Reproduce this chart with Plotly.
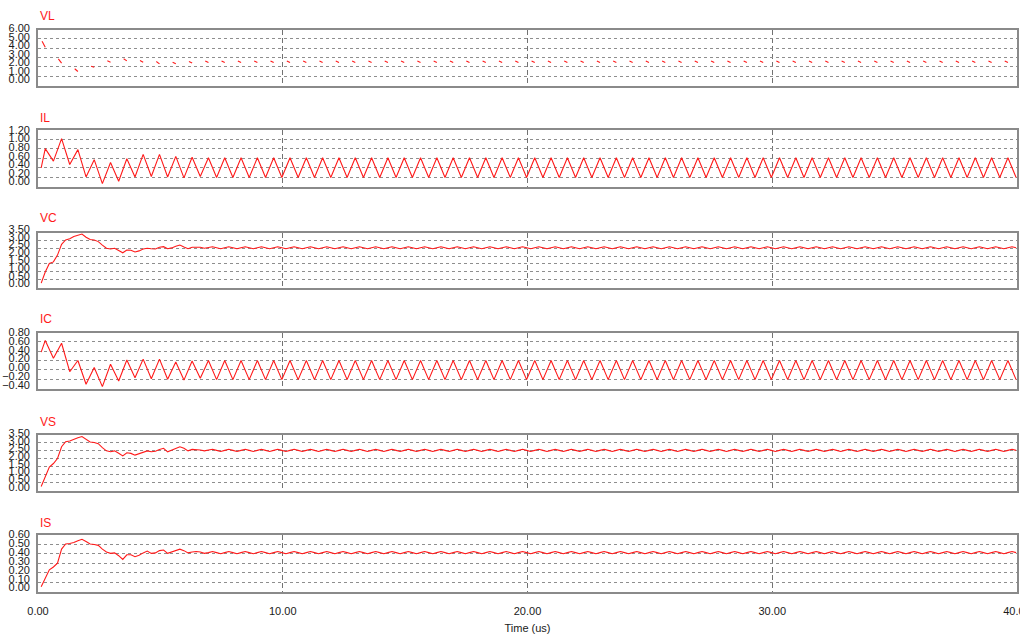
import numpy as np
import plotly.graph_objects as go

# ---------------------------------------------------------------- data
T_SW = 2 / 3        # switching period (us)
T_START = 0.13      # first stored sample (us)
VL_ON_STEP = 0.13   # spacing of the last two on-state samples of VL (us)

time_ticks = [0, 10, 20, 30, 40]

# Inductor voltage: last two on-state samples of each switching cycle
vl_seg_start = [
    4.75, 2.86, 1.79, 2.07, 2.64, 2.86, 2.68, 2.57, 2.50, 2.57,
    2.62, 2.62, 2.62, 2.62, 2.62, 2.62, 2.62, 2.62, 2.62, 2.62,
    2.62, 2.62, 2.62, 2.62, 2.62, 2.62, 2.62, 2.62, 2.62, 2.62,
    2.62, 2.62, 2.62, 2.62, 2.62, 2.62, 2.62, 2.62, 2.62, 2.62,
    2.62, 2.62, 2.62, 2.62, 2.62, 2.62, 2.62, 2.62, 2.62, 2.62,
    2.62, 2.62, 2.62, 2.62, 2.62, 2.62, 2.62, 2.62, 2.62, 2.62,
]
vl_seg_end = [
    4.10, 2.40, 1.50, 1.96, 2.50, 2.64, 2.50, 2.32, 2.32, 2.40,
    2.46, 2.46, 2.46, 2.46, 2.46, 2.46, 2.46, 2.46, 2.46, 2.46,
    2.46, 2.46, 2.46, 2.46, 2.46, 2.46, 2.46, 2.46, 2.46, 2.46,
    2.46, 2.46, 2.46, 2.46, 2.46, 2.46, 2.46, 2.46, 2.46, 2.46,
    2.46, 2.46, 2.46, 2.46, 2.46, 2.46, 2.46, 2.46, 2.46, 2.46,
    2.46, 2.46, 2.46, 2.46, 2.46, 2.46, 2.46, 2.46, 2.46, 2.46,
]

# Inductor current: first sample, then every peak / valley
il_vals = [
    0.40,
    0.80, 0.54, 1.01, 0.47, 0.78, 0.21, 0.57, 0.07, 0.51, 0.12,
    0.59, 0.21, 0.68, 0.22, 0.68, 0.21, 0.64, 0.19, 0.62, 0.22,
    0.61, 0.20, 0.61, 0.20, 0.61, 0.20, 0.61, 0.20, 0.61, 0.20,
    0.61, 0.20, 0.61, 0.20, 0.61, 0.20, 0.61, 0.20, 0.61, 0.20,
    0.61, 0.20, 0.61, 0.20, 0.61, 0.20, 0.61, 0.20, 0.61, 0.20,
    0.61, 0.20, 0.61, 0.20, 0.61, 0.20, 0.61, 0.20, 0.61, 0.20,
    0.61, 0.20, 0.61, 0.20, 0.61, 0.20, 0.61, 0.20, 0.61, 0.20,
    0.61, 0.20, 0.61, 0.20, 0.61, 0.20, 0.61, 0.20, 0.61, 0.20,
    0.61, 0.20, 0.61, 0.20, 0.61, 0.20, 0.61, 0.20, 0.61, 0.20,
    0.61, 0.20, 0.61, 0.20, 0.61, 0.20, 0.61, 0.20, 0.61, 0.20,
    0.61, 0.20, 0.61, 0.20, 0.61, 0.20, 0.61, 0.20, 0.61, 0.20,
    0.61, 0.20, 0.61, 0.20, 0.61, 0.20, 0.61, 0.20, 0.61, 0.20,
]

# Capacitor current: same instants as the inductor current
ic_vals = [
    0.38,
    0.63, 0.25, 0.57, -0.04, 0.20, -0.31, 0.05, -0.36, 0.12, -0.24,
    0.21, -0.17, 0.23, -0.19, 0.23, -0.20, 0.17, -0.22, 0.19, -0.18,
    0.20, -0.21, 0.20, -0.21, 0.20, -0.21, 0.20, -0.21, 0.20, -0.21,
    0.20, -0.21, 0.20, -0.21, 0.20, -0.21, 0.20, -0.21, 0.20, -0.21,
    0.20, -0.21, 0.20, -0.21, 0.20, -0.21, 0.20, -0.21, 0.20, -0.21,
    0.20, -0.21, 0.20, -0.21, 0.20, -0.21, 0.20, -0.21, 0.20, -0.21,
    0.20, -0.21, 0.20, -0.21, 0.20, -0.21, 0.20, -0.21, 0.20, -0.21,
    0.20, -0.21, 0.20, -0.21, 0.20, -0.21, 0.20, -0.21, 0.20, -0.21,
    0.20, -0.21, 0.20, -0.21, 0.20, -0.21, 0.20, -0.21, 0.20, -0.21,
    0.20, -0.21, 0.20, -0.21, 0.20, -0.21, 0.20, -0.21, 0.20, -0.21,
    0.20, -0.21, 0.20, -0.21, 0.20, -0.21, 0.20, -0.21, 0.20, -0.21,
    0.20, -0.21, 0.20, -0.21, 0.20, -0.21, 0.20, -0.21, 0.20, -0.21,
]

# Capacitor voltage, sampled four times per switching period
vc_vals = [
    0.28, 0.99, 1.53, 1.63, 2.06, 2.75, 3.03, 3.10, 3.25, 3.33,
    3.40, 3.20, 3.05, 3.02, 2.92, 2.70, 2.50, 2.45, 2.50, 2.36,
    2.21, 2.39, 2.37, 2.26, 2.33, 2.45, 2.50, 2.47, 2.45, 2.56,
    2.60, 2.47, 2.52, 2.62, 2.70, 2.58, 2.47, 2.56, 2.58, 2.56,
    2.50,
    2.53, 2.59, 2.53, 2.47, 2.53, 2.59, 2.53, 2.47,
    2.53, 2.59, 2.53, 2.47, 2.53, 2.59, 2.53, 2.47,
    2.53, 2.59, 2.53, 2.47, 2.53, 2.59, 2.53, 2.47,
    2.53, 2.59, 2.53, 2.47, 2.53, 2.59, 2.53, 2.47,
    2.53, 2.59, 2.53, 2.47, 2.53, 2.59, 2.53, 2.47,
    2.53, 2.59, 2.53, 2.47, 2.53, 2.59, 2.53, 2.47,
    2.53, 2.59, 2.53, 2.47, 2.53, 2.59, 2.53, 2.47,
    2.53, 2.59, 2.53, 2.47, 2.53, 2.59, 2.53, 2.47,
    2.53, 2.59, 2.53, 2.47, 2.53, 2.59, 2.53, 2.47,
    2.53, 2.59, 2.53, 2.47, 2.53, 2.59, 2.53, 2.47,
    2.53, 2.59, 2.53, 2.47, 2.53, 2.59, 2.53, 2.47,
    2.53, 2.59, 2.53, 2.47, 2.53, 2.59, 2.53, 2.47,
    2.53, 2.59, 2.53, 2.47, 2.53, 2.59, 2.53, 2.47,
    2.53, 2.59, 2.53, 2.47, 2.53, 2.59, 2.53, 2.47,
    2.53, 2.59, 2.53, 2.47, 2.53, 2.59, 2.53, 2.47,
    2.53, 2.59, 2.53, 2.47, 2.53, 2.59, 2.53, 2.47,
    2.53, 2.59, 2.53, 2.47, 2.53, 2.59, 2.53, 2.47,
    2.53, 2.59, 2.53, 2.47, 2.53, 2.59, 2.53, 2.47,
    2.53, 2.59, 2.53, 2.47, 2.53, 2.59, 2.53, 2.47,
    2.53, 2.59, 2.53, 2.47, 2.53, 2.59, 2.53, 2.47,
    2.53, 2.59, 2.53, 2.47, 2.53, 2.59, 2.53, 2.47,
    2.53, 2.59, 2.53, 2.47, 2.53, 2.59, 2.53, 2.47,
    2.53, 2.59, 2.53, 2.47, 2.53, 2.59, 2.53, 2.47,
    2.53, 2.59, 2.53, 2.47, 2.53, 2.59, 2.53, 2.47,
    2.53, 2.59, 2.53, 2.47, 2.53, 2.59, 2.53,
]

# Output (load) voltage, same sampling
vs_vals = [
    0.25, 0.85, 1.48, 1.70, 2.02, 2.76, 3.08, 3.12, 3.25, 3.33,
    3.40, 3.22, 3.06, 3.03, 2.95, 2.70, 2.50, 2.44, 2.50, 2.35,
    2.18, 2.38, 2.34, 2.23, 2.33, 2.44, 2.50, 2.44, 2.47, 2.59,
    2.66, 2.44, 2.55, 2.66, 2.76, 2.66, 2.50, 2.59, 2.58, 2.55,
    2.50,
    2.53, 2.60, 2.53, 2.46, 2.53, 2.60, 2.53, 2.46,
    2.53, 2.60, 2.53, 2.46, 2.53, 2.60, 2.53, 2.46,
    2.53, 2.60, 2.53, 2.46, 2.53, 2.60, 2.53, 2.46,
    2.53, 2.60, 2.53, 2.46, 2.53, 2.60, 2.53, 2.46,
    2.53, 2.60, 2.53, 2.46, 2.53, 2.60, 2.53, 2.46,
    2.53, 2.60, 2.53, 2.46, 2.53, 2.60, 2.53, 2.46,
    2.53, 2.60, 2.53, 2.46, 2.53, 2.60, 2.53, 2.46,
    2.53, 2.60, 2.53, 2.46, 2.53, 2.60, 2.53, 2.46,
    2.53, 2.60, 2.53, 2.46, 2.53, 2.60, 2.53, 2.46,
    2.53, 2.60, 2.53, 2.46, 2.53, 2.60, 2.53, 2.46,
    2.53, 2.60, 2.53, 2.46, 2.53, 2.60, 2.53, 2.46,
    2.53, 2.60, 2.53, 2.46, 2.53, 2.60, 2.53, 2.46,
    2.53, 2.60, 2.53, 2.46, 2.53, 2.60, 2.53, 2.46,
    2.53, 2.60, 2.53, 2.46, 2.53, 2.60, 2.53, 2.46,
    2.53, 2.60, 2.53, 2.46, 2.53, 2.60, 2.53, 2.46,
    2.53, 2.60, 2.53, 2.46, 2.53, 2.60, 2.53, 2.46,
    2.53, 2.60, 2.53, 2.46, 2.53, 2.60, 2.53, 2.46,
    2.53, 2.60, 2.53, 2.46, 2.53, 2.60, 2.53, 2.46,
    2.53, 2.60, 2.53, 2.46, 2.53, 2.60, 2.53, 2.46,
    2.53, 2.60, 2.53, 2.46, 2.53, 2.60, 2.53, 2.46,
    2.53, 2.60, 2.53, 2.46, 2.53, 2.60, 2.53, 2.46,
    2.53, 2.60, 2.53, 2.46, 2.53, 2.60, 2.53, 2.46,
    2.53, 2.60, 2.53, 2.46, 2.53, 2.60, 2.53, 2.46,
    2.53, 2.60, 2.53, 2.46, 2.53, 2.60, 2.53, 2.46,
    2.53, 2.60, 2.53, 2.46, 2.53, 2.60, 2.53,
]

# Load current, same sampling
is_vals = [
    0.05, 0.14, 0.23, 0.26, 0.30, 0.45, 0.505, 0.51, 0.52, 0.54,
    0.555, 0.53, 0.505, 0.50, 0.49, 0.45, 0.42, 0.405, 0.41, 0.38,
    0.34, 0.39, 0.39, 0.37, 0.385, 0.41, 0.43, 0.405, 0.41, 0.434,
    0.44, 0.405, 0.42, 0.434, 0.45, 0.434, 0.41, 0.42, 0.425, 0.42,
    0.405,
    0.413, 0.425, 0.413, 0.401, 0.413, 0.425, 0.413, 0.401,
    0.413, 0.425, 0.413, 0.401, 0.413, 0.425, 0.413, 0.401,
    0.413, 0.425, 0.413, 0.401, 0.413, 0.425, 0.413, 0.401,
    0.413, 0.425, 0.413, 0.401, 0.413, 0.425, 0.413, 0.401,
    0.413, 0.425, 0.413, 0.401, 0.413, 0.425, 0.413, 0.401,
    0.413, 0.425, 0.413, 0.401, 0.413, 0.425, 0.413, 0.401,
    0.413, 0.425, 0.413, 0.401, 0.413, 0.425, 0.413, 0.401,
    0.413, 0.425, 0.413, 0.401, 0.413, 0.425, 0.413, 0.401,
    0.413, 0.425, 0.413, 0.401, 0.413, 0.425, 0.413, 0.401,
    0.413, 0.425, 0.413, 0.401, 0.413, 0.425, 0.413, 0.401,
    0.413, 0.425, 0.413, 0.401, 0.413, 0.425, 0.413, 0.401,
    0.413, 0.425, 0.413, 0.401, 0.413, 0.425, 0.413, 0.401,
    0.413, 0.425, 0.413, 0.401, 0.413, 0.425, 0.413, 0.401,
    0.413, 0.425, 0.413, 0.401, 0.413, 0.425, 0.413, 0.401,
    0.413, 0.425, 0.413, 0.401, 0.413, 0.425, 0.413, 0.401,
    0.413, 0.425, 0.413, 0.401, 0.413, 0.425, 0.413, 0.401,
    0.413, 0.425, 0.413, 0.401, 0.413, 0.425, 0.413, 0.401,
    0.413, 0.425, 0.413, 0.401, 0.413, 0.425, 0.413, 0.401,
    0.413, 0.425, 0.413, 0.401, 0.413, 0.425, 0.413, 0.401,
    0.413, 0.425, 0.413, 0.401, 0.413, 0.425, 0.413, 0.401,
    0.413, 0.425, 0.413, 0.401, 0.413, 0.425, 0.413, 0.401,
    0.413, 0.425, 0.413, 0.401, 0.413, 0.425, 0.413, 0.401,
    0.413, 0.425, 0.413, 0.401, 0.413, 0.425, 0.413, 0.401,
    0.413, 0.425, 0.413, 0.401, 0.413, 0.425, 0.413, 0.401,
    0.413, 0.425, 0.413, 0.401, 0.413, 0.425, 0.413,
]

panel_names = ["VL", "IL", "VC", "IC", "VS", "IS"]
y_ticks = [
    [0.0, 1.0, 2.0, 3.0, 4.0, 5.0, 6.0],
    [0.0, 0.2, 0.4, 0.6, 0.8, 1.0, 1.2],
    [0.0, 0.5, 1.0, 1.5, 2.0, 2.5, 3.0, 3.5],
    [-0.4, -0.2, 0.0, 0.2, 0.4, 0.6, 0.8],
    [0.0, 0.5, 1.0, 1.5, 2.0, 2.5, 3.0, 3.5],
    [0.0, 0.1, 0.2, 0.3, 0.4, 0.5, 0.6],
]

# ---------------------------------------------------------------- geometry (px)
W, H = 1020, 639
X0, X1 = 38, 1017
panel_px = [(29.5, 85.5), (129.5, 187), (232.5, 287.5),
            (332.5, 388.5), (435, 490.5), (535, 591.5)]
label_px = [(28.5, 79.5), (130, 181.5), (229, 283.5),
            (332, 385), (433, 487), (534.5, 587.5)]
name_px = [15.5, 117.5, 218.5, 319, 421.5, 522.5]

RED = "#ff1a1a"
FONT = "Liberation Sans, Arial, sans-serif"
TEXT = "#1a1a1a"


def py(px):
    return 1 - px / H


# ---------------------------------------------------------------- series
q_times = T_START + np.arange(len(vc_vals)) * T_SW / 4
turn_times = np.concatenate(
    [[T_START], T_START + (2 * np.arange(len(il_vals) - 1) + 1) * T_SW / 4])

vl_x, vl_y = [], []
for k, (a, b) in enumerate(zip(vl_seg_start, vl_seg_end)):
    t_end = T_START + (1 + 4 * k) * T_SW / 4
    vl_x += [t_end - VL_ON_STEP, t_end, None]
    vl_y += [a, b, None]

series = [
    (vl_x, vl_y),
    (turn_times, il_vals),
    (q_times, vc_vals),
    (turn_times, ic_vals),
    (q_times, vs_vals),
    (q_times, is_vals),
]

fig = go.Figure()
for i, (xs, ys) in enumerate(series, start=1):
    fig.add_trace(go.Scatter(
        x=list(xs), y=list(ys), mode="lines",
        line=dict(color=RED, width=1.1),
        xaxis=f"x{i}", yaxis=f"y{i}",
        showlegend=False, hoverinfo="skip",
    ))

# empty traces that register the tick-label columns as subplots
for i in range(1, 7):
    fig.add_trace(go.Scatter(
        x=[None], y=[None], mode="lines",
        xaxis="x7", yaxis=f"y{6 + i}",
        showlegend=False, hoverinfo="skip",
    ))

layout = dict(
    template="none",
    width=W, height=H,
    margin=dict(l=0, r=0, t=0, b=0, autoexpand=False),
    paper_bgcolor="white",
    plot_bgcolor="rgba(0,0,0,0)",
    showlegend=False,
    font=dict(family=FONT, size=11, color=TEXT),
)

x_dom = [X0 / W, X1 / W]
for i in range(1, 7):
    top, bot = panel_px[i - 1]
    ticks = y_ticks[i - 1]
    last = i == 6
    layout[f"xaxis{i}"] = dict(
        domain=x_dom, range=[0, 40], anchor=f"y{i}", automargin=False,
        tickvals=time_ticks, tickformat=".2f",
        showticklabels=last, ticks="",
        ticklabelstandoff=8, ticklabeloverflow="allow",
        tickfont=dict(size=11, color=TEXT),
        showgrid=True, gridcolor="#727272", griddash="5px,3px", gridwidth=1,
        showline=True, linecolor="#8a8a8a", linewidth=2, mirror=True,
        zeroline=False,
        title=dict(text="Time (us)", standoff=9,
                   font=dict(size=11, color=TEXT)) if last else None,
    )
    if i > 1:
        layout[f"xaxis{i}"]["matches"] = "x"
    layout[f"yaxis{i}"] = dict(
        domain=[py(bot), py(top)], range=[ticks[0], ticks[-1]],
        anchor=f"x{i}", automargin=False,
        tickvals=ticks, showticklabels=False, ticks="",
        showgrid=True, gridcolor="#8e8e8e", griddash="3px,3px", gridwidth=1,
        showline=True, linecolor="#8a8a8a", linewidth=2, mirror=True,
        zeroline=False,
    )
    # tick-label column drawn beside each panel
    ltop, lbot = label_px[i - 1]
    layout[f"yaxis{6 + i}"] = dict(
        domain=[py(lbot), py(ltop)], range=[ticks[0], ticks[-1]],
        anchor="x7", automargin=False,
        tickvals=ticks, tickformat=".2f", ticks="",
        ticklabelstandoff=7, ticklabeloverflow="allow",
        tickfont=dict(size=11, color=TEXT),
        showgrid=False, showline=False, zeroline=False,
    )

# carrier axis for the tick-label columns; draws nothing itself
layout["xaxis7"] = dict(domain=x_dom, range=[0, 40], anchor="y7",
                        automargin=False, showgrid=False, showline=False,
                        zeroline=False, showticklabels=False, ticks="")

layout["annotations"] = [
    dict(text=name, x=X0 / W, y=py(yc), xref="paper", yref="paper",
         xanchor="left", yanchor="middle", showarrow=False,
         font=dict(family=FONT, size=12, color=RED))
    for name, yc in zip(panel_names, name_px)
]

fig.update_layout(**layout)
fig.write_html("out.html")
